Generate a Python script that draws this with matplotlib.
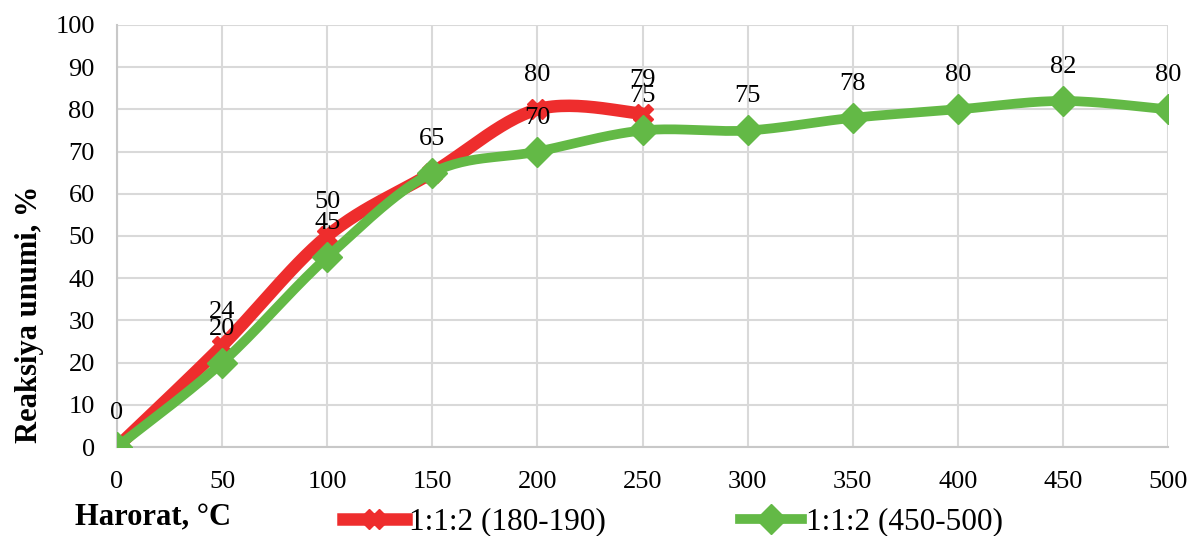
import numpy as np
import matplotlib.pyplot as plt
from matplotlib.lines import Line2D

# Temperature (°C) and reaction yield (%)
temp_red = [0, 50, 100, 150, 200, 250]
yield_red = [0, 24, 50, 65, 80, 79]
temp_green = [0, 50, 100, 150, 200, 250, 300, 350, 400, 450, 500]
yield_green = [0, 20, 45, 65, 70, 75, 75, 78, 80, 82, 80]

label_red = '1:1:2 (180-190)'
label_green = '1:1:2 (450-500)'
red = '#EE2D2D'
green = '#63B946'


def smooth(x, y, n=30):
    # Excel-like smoothed line: cubic bezier through points (Catmull-Rom tangents)
    x = np.asarray(x, float)
    y = np.asarray(y, float)
    px = np.concatenate([[x[0]], x, [x[-1]]])
    py = np.concatenate([[y[0]], y, [y[-1]]])
    xs, ys = [], []
    t = np.linspace(0, 1, n)
    for i in range(1, len(px) - 2):
        p0 = np.array([px[i], py[i]])
        p3 = np.array([px[i + 1], py[i + 1]])
        p1 = p0 + (np.array([px[i + 1], py[i + 1]]) - np.array([px[i - 1], py[i - 1]])) / 6
        p2 = p3 - (np.array([px[i + 2], py[i + 2]]) - np.array([px[i], py[i]])) / 6
        b = ((1 - t) ** 3)[:, None] * p0 + (3 * (1 - t) ** 2 * t)[:, None] * p1 \
            + (3 * (1 - t) * t ** 2)[:, None] * p2 + (t ** 3)[:, None] * p3
        xs.extend(b[:, 0])
        ys.extend(b[:, 1])
    return xs, ys


plt.rcParams['font.family'] = ['Liberation Serif', 'DejaVu Serif']

fig = plt.figure(figsize=(11.89, 5.36), dpi=100)
ax = fig.add_axes([117 / 1189, 89 / 536, 1051 / 1189, 422 / 536])

sx, sy = smooth(temp_red, yield_red)
ax.plot(sx, sy, color=red, lw=9, solid_capstyle='round', zorder=3)
ax.plot(temp_red, yield_red, 'X', color=red, ms=14, zorder=3)

sx, sy = smooth(temp_green, yield_green)
ax.plot(sx, sy, color=green, lw=7, solid_capstyle='round', zorder=4)
ax.plot(temp_green, yield_green, 'D', color=green, ms=15, zorder=4)

green_at = dict(zip(temp_green, yield_green))
for x, y in zip(temp_red, yield_red):
    if green_at.get(x) == y:
        continue  # same label as the green series, drawn once
    ax.annotate(str(y), (x, y), xytext=(0, 24.5), textcoords='offset points',
                ha='center', va='center', fontsize=19, zorder=5)
for x, y in zip(temp_green, yield_green):
    ax.annotate(str(y), (x, y), xytext=(0, 24.5), textcoords='offset points',
                ha='center', va='center', fontsize=19, zorder=5)

ax.set_xlim(0, 500)
ax.set_ylim(0, 100)
ax.set_xticks(range(0, 501, 50))
ax.set_yticks(range(0, 101, 10))
ax.grid(True, color='#D9D9D9', lw=1.5)
ax.set_axisbelow(True)
for s in ['top', 'right']:
    ax.spines[s].set_visible(False)
for s in ['left', 'bottom']:
    ax.spines[s].set_color('#C8C8C8')
    ax.spines[s].set_linewidth(1.5)
ax.tick_params(axis='y', length=0, labelsize=19, pad=16)
ax.tick_params(axis='x', length=0, labelsize=19, pad=17)
ax.set_ylabel('Reaksiya unumi, %', fontsize=22, fontweight='bold')
ax.yaxis.set_label_coords(-0.069, 0.315)

fig.text(75 / 1189, 1 - 518 / 536, 'Harorat, °C', fontsize=22,
         fontweight='bold', va='center')
handles = [Line2D([], [], color=red, lw=9, marker='X', ms=14),
           Line2D([], [], color=green, lw=7, marker='D', ms=15)]
fig.legend(handles, [label_red, label_green], ncol=2, frameon=False,
           loc='center left', bbox_to_anchor=(343 / 1189, 1 - 522 / 536),
           fontsize=22.5, borderpad=0, borderaxespad=0,
           handlelength=2.0, handletextpad=0.1, columnspacing=4.3)

fig.savefig('out.png', dpi=100)
